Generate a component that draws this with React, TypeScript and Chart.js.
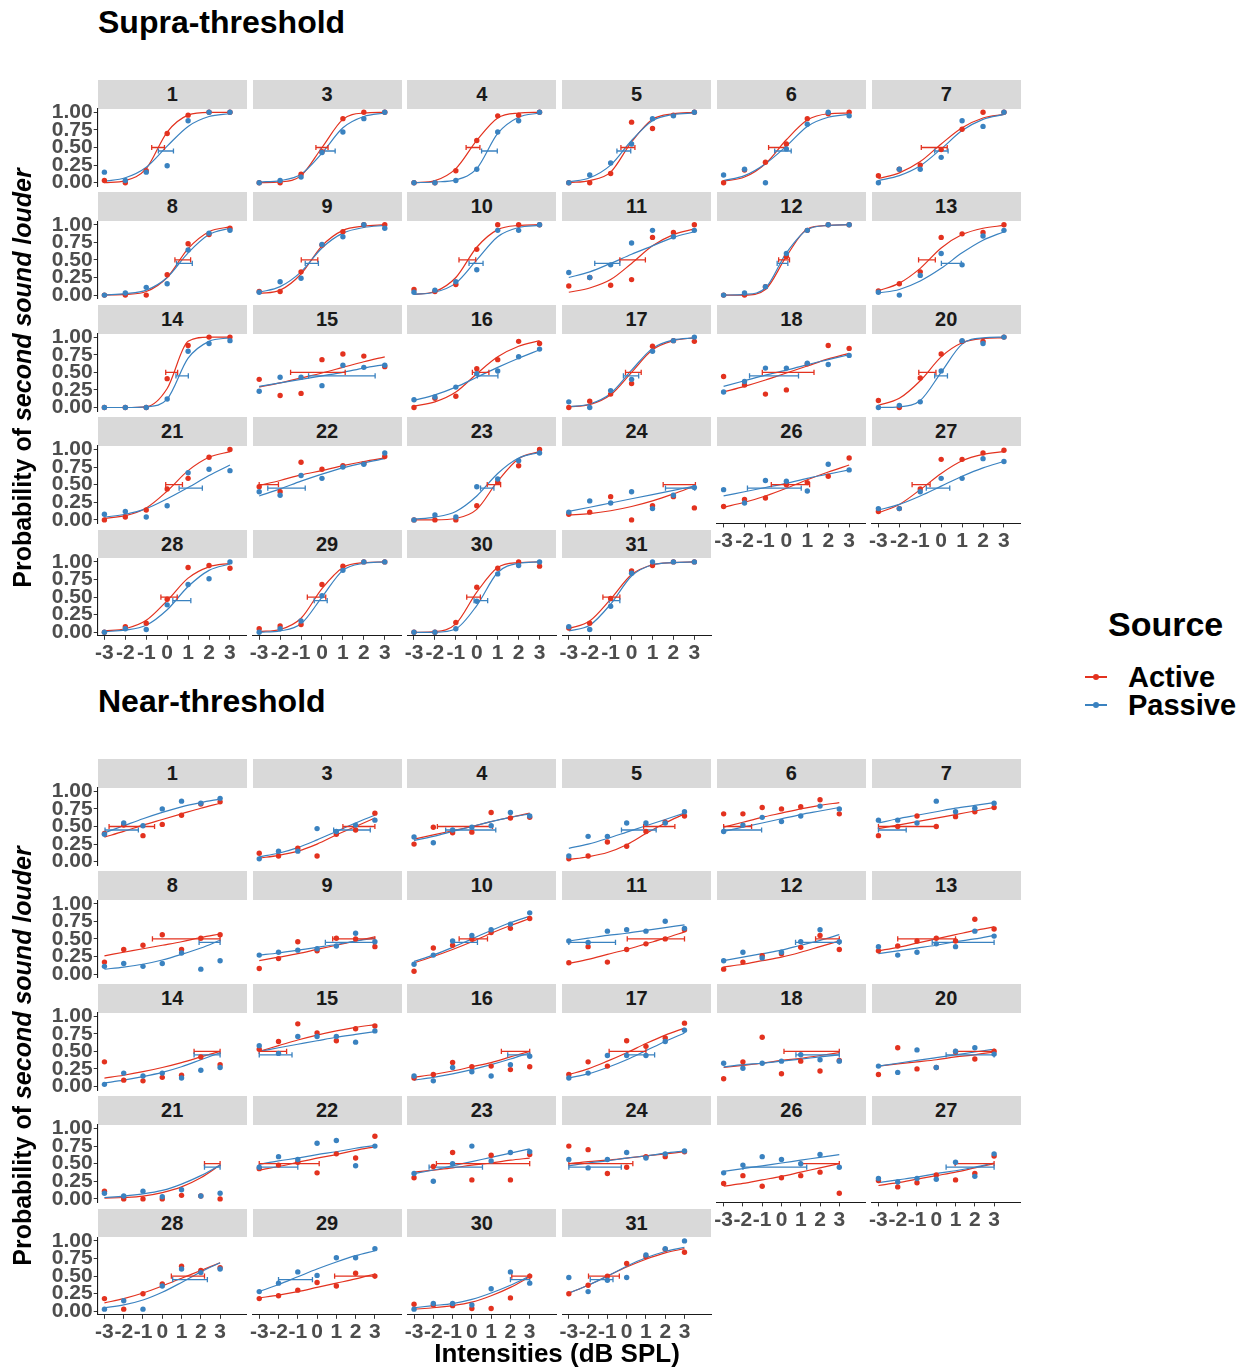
import React, { useEffect, useRef } from "react";
import { Chart, registerables } from "chart.js";

Chart.register(...registerables);

const FONT = "'Liberation Sans', Arial, Helvetica, sans-serif";
const RED = "#E3321F";
const BLUE = "#3A82C0";
const TICK_COLOR = "#4D4D4D";
const AXIS_COLOR = "#1A1A1A";

// ---------------- data ----------------
const panelIds = ["1", "3", "4", "5", "6", "7", "8", "9", "10", "11", "12", "13", "14", "15", "16", "17", "18", "20", "21", "22", "23", "24", "26", "27", "28", "29", "30", "31"];
const intensities = [-3, -2, -1, 0, 1, 2, 3];
const xTickValues = [-3, -2, -1, 0, 1, 2, 3];
const yTickValues = [0, 0.25, 0.5, 0.75, 1];
const activeBarLevel = 0.5;
const passiveBarLevel = 0.45;
const supraXRange = [-3.32, 3.8];
const nearXRange = [-3.35, 4.38];

const supraActivePoints = [
  [0.03, 0.0, 0.17, 0.7, 0.96, 1.0, 1.0],
  [0.0, 0.0, 0.12, 0.44, 0.91, 1.0, 1.0],
  [0.0, 0.0, 0.17, 0.6, 0.95, 0.96, 1.0],
  [0.0, 0.0, 0.13, 0.86, 0.77, 0.96, 1.0],
  [0.0, 0.18, 0.29, 0.55, 0.91, 0.98, 1.0],
  [0.1, 0.19, 0.25, 0.47, 0.76, 1.0, 1.0],
  [0.0, 0.0, 0.0, 0.29, 0.73, 0.86, 0.95],
  [0.05, 0.05, 0.33, 0.71, 0.9, 1.0, 1.0],
  [0.08, 0.05, 0.15, 0.65, 1.0, 1.0, 1.0],
  [0.13, 0.25, 0.14, 0.22, 0.82, 0.89, 1.0],
  [0.0, 0.0, 0.12, 0.55, 0.92, 1.0, 1.0],
  [0.06, 0.16, 0.33, 0.82, 0.87, 0.89, 1.0],
  [0.0, 0.0, 0.0, 0.41, 0.88, 1.0, 1.0],
  [0.4, 0.17, 0.2, 0.68, 0.76, 0.73, 0.58],
  [0.0, 0.13, 0.16, 0.55, 0.68, 0.94, 0.91],
  [0.0, 0.09, 0.19, 0.34, 0.87, 0.95, 0.94],
  [0.44, 0.32, 0.19, 0.25, 0.62, 0.88, 0.84],
  [0.1, 0.0, 0.42, 0.76, 0.94, 0.94, 1.0],
  [0.0, 0.04, 0.14, 0.44, 0.59, 0.89, 1.0],
  [0.47, 0.4, 0.82, 0.72, 0.77, 0.8, 0.9],
  [0.0, 0.0, 0.0, 0.2, 0.54, 0.77, 1.0],
  [0.08, 0.11, 0.33, 0.0, 0.2, 0.33, 0.17],
  [0.19, 0.29, 0.31, 0.5, 0.53, 0.62, 0.88],
  [0.12, 0.16, 0.44, 0.86, 0.86, 0.95, 0.99],
  [0.0, 0.08, 0.13, 0.47, 0.92, 0.95, 0.91],
  [0.05, 0.09, 0.11, 0.68, 0.94, 1.0, 1.0],
  [0.0, 0.0, 0.14, 0.64, 0.91, 1.0, 0.94],
  [0.06, 0.13, 0.48, 0.87, 0.95, 1.0, 1.0],
];

const supraPassivePoints = [
  [0.15, 0.03, 0.15, 0.24, 0.88, 1.0, 1.0],
  [0.0, 0.03, 0.08, 0.43, 0.72, 0.91, 1.0],
  [0.0, 0.0, 0.03, 0.19, 0.72, 0.88, 1.0],
  [0.0, 0.11, 0.28, 0.55, 0.91, 0.95, 1.0],
  [0.11, 0.19, 0.0, 0.48, 0.83, 1.0, 0.95],
  [0.0, 0.19, 0.19, 0.36, 0.88, 0.8, 1.0],
  [0.0, 0.03, 0.11, 0.16, 0.64, 0.88, 0.92],
  [0.04, 0.19, 0.24, 0.72, 0.83, 1.0, 0.95],
  [0.04, 0.07, 0.19, 0.36, 0.92, 0.92, 1.0],
  [0.32, 0.25, 0.43, 0.74, 0.92, 0.83, 0.92],
  [0.0, 0.03, 0.12, 0.59, 0.92, 1.0, 1.0],
  [0.04, 0.0, 0.28, 0.59, 0.43, 0.84, 0.92],
  [0.0, 0.0, 0.0, 0.12, 0.8, 0.91, 0.95],
  [0.23, 0.43, 0.43, 0.31, 0.6, 0.57, 0.6],
  [0.11, 0.15, 0.29, 0.48, 0.52, 0.72, 0.83],
  [0.08, 0.0, 0.24, 0.4, 0.8, 0.95, 1.0],
  [0.22, 0.37, 0.56, 0.56, 0.63, 0.61, 0.74],
  [0.0, 0.03, 0.08, 0.52, 0.95, 0.91, 1.0],
  [0.08, 0.12, 0.04, 0.2, 0.67, 0.72, 0.7],
  [0.4, 0.35, 0.63, 0.59, 0.75, 0.79, 0.95],
  [0.0, 0.07, 0.04, 0.47, 0.58, 0.84, 0.95],
  [0.11, 0.27, 0.24, 0.4, 0.16, 0.35, 0.46],
  [0.43, 0.24, 0.56, 0.55, 0.41, 0.79, 0.71],
  [0.16, 0.16, 0.4, 0.59, 0.59, 0.87, 0.83],
  [0.0, 0.05, 0.04, 0.39, 0.68, 0.76, 1.0],
  [0.0, 0.05, 0.16, 0.52, 0.88, 1.0, 1.0],
  [0.0, 0.0, 0.05, 0.44, 0.83, 0.95, 1.0],
  [0.08, 0.04, 0.37, 0.84, 1.0, 1.0, 1.0],
];

const supraActiveCurve = [
  [0.0, 0.03, 0.2, 0.72, 0.96, 1.0, 1.0],
  [0.0, 0.01, 0.1, 0.5, 0.9, 0.99, 1.0],
  [0.0, 0.03, 0.2, 0.6, 0.92, 0.99, 1.0],
  [0.0, 0.03, 0.15, 0.58, 0.9, 0.98, 1.0],
  [0.02, 0.08, 0.27, 0.61, 0.89, 0.98, 0.99],
  [0.06, 0.14, 0.3, 0.55, 0.78, 0.92, 0.97],
  [0.0, 0.01, 0.05, 0.25, 0.66, 0.9, 0.97],
  [0.02, 0.07, 0.3, 0.7, 0.92, 0.98, 1.0],
  [0.01, 0.05, 0.25, 0.68, 0.93, 0.99, 1.0],
  [0.04, 0.1, 0.22, 0.45, 0.7, 0.86, 0.94],
  [0.0, 0.0, 0.08, 0.55, 0.94, 0.99, 1.0],
  [0.06, 0.17, 0.38, 0.67, 0.86, 0.95, 0.99],
  [0.0, 0.0, 0.01, 0.27, 0.94, 1.0, 1.0],
  [0.29, 0.35, 0.42, 0.49, 0.57, 0.65, 0.72],
  [0.02, 0.08, 0.22, 0.48, 0.72, 0.87, 0.95],
  [0.01, 0.04, 0.18, 0.5, 0.82, 0.95, 0.99],
  [0.22, 0.3, 0.39, 0.49, 0.59, 0.69, 0.77],
  [0.03, 0.13, 0.38, 0.72, 0.92, 0.98, 0.99],
  [0.02, 0.06, 0.17, 0.41, 0.7, 0.89, 0.97],
  [0.49, 0.56, 0.64, 0.7, 0.77, 0.83, 0.88],
  [0.0, 0.0, 0.02, 0.15, 0.55, 0.87, 0.97],
  [0.07, 0.09, 0.13, 0.19, 0.27, 0.37, 0.48],
  [0.18, 0.25, 0.34, 0.45, 0.57, 0.68, 0.78],
  [0.1, 0.22, 0.43, 0.66, 0.84, 0.93, 0.97],
  [0.02, 0.05, 0.17, 0.45, 0.77, 0.93, 0.98],
  [0.01, 0.04, 0.2, 0.62, 0.92, 0.99, 1.0],
  [0.0, 0.01, 0.12, 0.57, 0.92, 0.99, 1.0],
  [0.05, 0.16, 0.47, 0.82, 0.96, 0.99, 1.0],
];

const supraPassiveCurve = [
  [0.02, 0.07, 0.22, 0.52, 0.8, 0.94, 0.98],
  [0.01, 0.03, 0.12, 0.42, 0.78, 0.94, 0.99],
  [0.0, 0.01, 0.04, 0.2, 0.7, 0.93, 0.99],
  [0.01, 0.07, 0.25, 0.6, 0.88, 0.97, 0.99],
  [0.03, 0.1, 0.27, 0.52, 0.8, 0.93, 0.97],
  [0.03, 0.1, 0.24, 0.48, 0.74, 0.9, 0.97],
  [0.0, 0.02, 0.07, 0.25, 0.6, 0.86, 0.95],
  [0.04, 0.12, 0.33, 0.67, 0.88, 0.96, 0.99],
  [0.01, 0.04, 0.17, 0.5, 0.83, 0.96, 0.99],
  [0.25, 0.33, 0.45, 0.58, 0.7, 0.82, 0.9],
  [0.0, 0.01, 0.1, 0.6, 0.93, 0.99, 1.0],
  [0.03, 0.08, 0.2, 0.38, 0.6, 0.78, 0.9],
  [0.0, 0.0, 0.01, 0.12, 0.7, 0.94, 0.99],
  [0.3, 0.35, 0.4, 0.45, 0.5, 0.56, 0.61],
  [0.1, 0.18, 0.29, 0.43, 0.57, 0.7, 0.82],
  [0.01, 0.05, 0.2, 0.53, 0.84, 0.96, 0.99],
  [0.3, 0.38, 0.46, 0.53, 0.61, 0.68, 0.75],
  [0.0, 0.01, 0.1, 0.5, 0.9, 0.99, 1.0],
  [0.04, 0.08, 0.16, 0.3, 0.46, 0.63, 0.78],
  [0.34, 0.44, 0.55, 0.65, 0.74, 0.81, 0.87],
  [0.01, 0.04, 0.12, 0.34, 0.66, 0.88, 0.96],
  [0.12, 0.18, 0.24, 0.3, 0.36, 0.42, 0.48],
  [0.34, 0.4, 0.46, 0.52, 0.59, 0.65, 0.71],
  [0.14, 0.22, 0.34, 0.48, 0.62, 0.74, 0.83],
  [0.01, 0.03, 0.1, 0.32, 0.65, 0.88, 0.97],
  [0.0, 0.02, 0.12, 0.5, 0.88, 0.98, 1.0],
  [0.0, 0.0, 0.05, 0.38, 0.85, 0.98, 1.0],
  [0.02, 0.1, 0.4, 0.8, 0.96, 0.99, 1.0],
];

const supraActiveCI = [
  [-0.74, -0.13], [-0.29, 0.29], [-0.51, 0.15], [-0.51, 0.16], [-0.85, -0.05], [-0.95, 0.29],
  [0.37, 1.12], [-0.99, -0.2], [-0.85, -0.05], [-0.56, 0.66], [-0.37, 0.15], [-1.08, -0.28],
  [-0.07, 0.5], [-1.5, 1.11], [-0.21, 0.58], [-0.29, 0.46], [-1.15, 1.32], [-1.07, -0.25],
  [-0.07, 0.73], [-3.0, -2.08], [0.5, 1.14], [1.51, 3.05], [-0.72, 1.11], [-1.39, -0.53],
  [-0.3, 0.48], [-0.7, 0.18], [-0.48, 0.17], [-1.37, -0.56],
];

const supraPassiveCI = [
  [-0.42, 0.3], [-0.07, 0.63], [0.23, 0.98], [-0.7, -0.04], [-0.56, 0.23], [-0.31, 0.33],
  [0.45, 1.2], [-0.8, -0.17], [-0.37, 0.3], [-1.76, -0.56], [-0.44, 0.07], [0.01, 0.96],
  [0.42, 1.01], [-0.64, 2.54], [0.03, 1.01], [-0.39, 0.34], [-1.76, 0.58], [-0.31, 0.3],
  [0.57, 1.68], [-2.59, -0.8], [0.18, 0.82], [1.62, 3.02], [-1.86, 0.71], [-0.71, 0.41],
  [0.27, 1.13], [-0.37, 0.25], [-0.13, 0.52], [-1.07, -0.56],
];

const nearActivePoints = [
  [0.4, 0.52, 0.37, 0.53, 0.66, 0.82, 0.85],
  [0.12, 0.08, 0.19, 0.08, 0.39, 0.45, 0.69],
  [0.25, 0.49, 0.41, 0.42, 0.7, 0.62, 0.63],
  [0.04, 0.08, 0.28, 0.22, 0.43, 0.56, 0.65],
  [0.68, 0.68, 0.77, 0.75, 0.78, 0.88, 0.68],
  [0.37, 0.5, 0.65, 0.5, 0.64, 0.71, 0.77],
  [0.17, 0.35, 0.41, 0.56, 0.35, 0.51, 0.56],
  [0.08, 0.22, 0.46, 0.33, 0.51, 0.5, 0.39],
  [0.04, 0.37, 0.41, 0.5, 0.59, 0.65, 0.79],
  [0.16, 0.39, 0.17, 0.35, 0.43, 0.5, 0.63],
  [0.07, 0.17, 0.26, 0.29, 0.38, 0.55, 0.35],
  [0.33, 0.4, 0.47, 0.51, 0.47, 0.78, 0.64],
  [0.35, 0.09, 0.08, 0.13, 0.16, 0.42, 0.31],
  [0.53, 0.64, 0.89, 0.76, 0.65, 0.82, 0.86],
  [0.12, 0.17, 0.34, 0.28, 0.29, 0.24, 0.28],
  [0.17, 0.35, 0.29, 0.65, 0.57, 0.69, 0.9],
  [0.11, 0.35, 0.7, 0.18, 0.36, 0.22, 0.37],
  [0.17, 0.55, 0.25, 0.27, 0.49, 0.39, 0.5],
  [0.11, 0.0, 0.0, 0.0, 0.05, 0.04, 0.0],
  [0.43, 0.48, 0.52, 0.37, 0.64, 0.58, 0.89],
  [0.3, 0.46, 0.66, 0.27, 0.62, 0.27, 0.63],
  [0.75, 0.7, 0.36, 0.45, 0.6, 0.6, 0.67],
  [0.22, 0.33, 0.18, 0.3, 0.33, 0.38, 0.08],
  [0.26, 0.17, 0.23, 0.34, 0.27, 0.36, 0.61],
  [0.18, 0.03, 0.25, 0.39, 0.64, 0.58, 0.62],
  [0.18, 0.22, 0.3, 0.41, 0.36, 0.54, 0.5],
  [0.1, 0.09, 0.08, 0.04, 0.04, 0.19, 0.5],
  [0.25, 0.37, 0.5, 0.68, 0.78, 0.88, 0.84],
];

const nearPassivePoints = [
  [0.39, 0.55, 0.51, 0.75, 0.86, 0.83, 0.9],
  [0.04, 0.15, 0.15, 0.47, 0.43, 0.52, 0.59],
  [0.35, 0.27, 0.45, 0.49, 0.51, 0.7, 0.65],
  [0.08, 0.36, 0.36, 0.55, 0.55, 0.55, 0.71],
  [0.43, 0.52, 0.63, 0.57, 0.65, 0.79, 0.75],
  [0.59, 0.59, 0.55, 0.86, 0.71, 0.76, 0.83],
  [0.11, 0.15, 0.11, 0.15, 0.3, 0.07, 0.19],
  [0.27, 0.31, 0.34, 0.36, 0.4, 0.58, 0.46],
  [0.14, 0.27, 0.47, 0.55, 0.63, 0.71, 0.87],
  [0.47, 0.45, 0.61, 0.63, 0.61, 0.75, 0.65],
  [0.19, 0.31, 0.23, 0.31, 0.46, 0.63, 0.46],
  [0.39, 0.27, 0.31, 0.43, 0.39, 0.61, 0.54],
  [0.03, 0.19, 0.15, 0.19, 0.12, 0.23, 0.27],
  [0.58, 0.47, 0.71, 0.71, 0.71, 0.63, 0.79],
  [0.15, 0.08, 0.27, 0.21, 0.15, 0.31, 0.43],
  [0.12, 0.19, 0.44, 0.44, 0.44, 0.64, 0.8],
  [0.33, 0.26, 0.33, 0.36, 0.45, 0.38, 0.36],
  [0.29, 0.2, 0.52, 0.27, 0.5, 0.55, 0.46],
  [0.08, 0.04, 0.11, 0.03, 0.13, 0.04, 0.08],
  [0.45, 0.6, 0.56, 0.79, 0.83, 0.47, 0.75],
  [0.36, 0.25, 0.5, 0.75, 0.54, 0.66, 0.67],
  [0.56, 0.44, 0.56, 0.66, 0.58, 0.64, 0.68],
  [0.37, 0.48, 0.6, 0.56, 0.5, 0.63, 0.45],
  [0.29, 0.24, 0.29, 0.28, 0.52, 0.32, 0.64],
  [0.03, 0.15, 0.03, 0.36, 0.6, 0.55, 0.6],
  [0.28, 0.4, 0.56, 0.51, 0.76, 0.76, 0.89],
  [0.03, 0.11, 0.11, 0.09, 0.32, 0.56, 0.4],
  [0.48, 0.28, 0.44, 0.48, 0.8, 0.89, 1.0],
];

const nearActiveCurve = [
  [0.35, 0.43, 0.52, 0.6, 0.68, 0.76, 0.83],
  [0.05, 0.09, 0.15, 0.25, 0.38, 0.5, 0.62],
  [0.32, 0.38, 0.44, 0.5, 0.57, 0.63, 0.69],
  [0.03, 0.07, 0.13, 0.24, 0.4, 0.55, 0.68],
  [0.49, 0.56, 0.63, 0.69, 0.75, 0.8, 0.84],
  [0.47, 0.52, 0.57, 0.62, 0.67, 0.72, 0.77],
  [0.26, 0.31, 0.36, 0.41, 0.46, 0.52, 0.57],
  [0.19, 0.24, 0.29, 0.35, 0.41, 0.47, 0.53],
  [0.16, 0.25, 0.35, 0.46, 0.58, 0.69, 0.79],
  [0.15, 0.21, 0.28, 0.35, 0.43, 0.51, 0.6],
  [0.1, 0.14, 0.19, 0.24, 0.31, 0.39, 0.47],
  [0.33, 0.38, 0.44, 0.5, 0.56, 0.62, 0.67],
  [0.12, 0.16, 0.21, 0.27, 0.34, 0.42, 0.5],
  [0.5, 0.58, 0.66, 0.73, 0.79, 0.84, 0.88],
  [0.13, 0.17, 0.22, 0.28, 0.34, 0.42, 0.5],
  [0.17, 0.25, 0.36, 0.48, 0.61, 0.73, 0.83],
  [0.27, 0.3, 0.33, 0.37, 0.4, 0.44, 0.48],
  [0.29, 0.32, 0.35, 0.38, 0.42, 0.45, 0.49],
  [0.01, 0.02, 0.04, 0.09, 0.17, 0.3, 0.48],
  [0.41, 0.46, 0.52, 0.58, 0.63, 0.69, 0.74],
  [0.38, 0.41, 0.44, 0.48, 0.51, 0.55, 0.58],
  [0.5, 0.53, 0.55, 0.58, 0.61, 0.64, 0.67],
  [0.18, 0.22, 0.27, 0.32, 0.38, 0.44, 0.5],
  [0.19, 0.23, 0.28, 0.33, 0.38, 0.44, 0.5],
  [0.12, 0.18, 0.26, 0.36, 0.47, 0.58, 0.69],
  [0.19, 0.23, 0.28, 0.34, 0.4, 0.46, 0.53],
  [0.03, 0.05, 0.08, 0.13, 0.22, 0.34, 0.49],
  [0.26, 0.37, 0.5, 0.63, 0.74, 0.83, 0.89],
];

const nearPassiveCurve = [
  [0.41, 0.51, 0.61, 0.7, 0.78, 0.84, 0.89],
  [0.07, 0.12, 0.2, 0.31, 0.43, 0.55, 0.66],
  [0.3, 0.36, 0.43, 0.5, 0.57, 0.63, 0.68],
  [0.19, 0.25, 0.33, 0.42, 0.51, 0.6, 0.69],
  [0.43, 0.49, 0.55, 0.61, 0.67, 0.72, 0.77],
  [0.55, 0.61, 0.66, 0.71, 0.76, 0.8, 0.84],
  [0.07, 0.1, 0.14, 0.2, 0.28, 0.37, 0.48],
  [0.27, 0.3, 0.34, 0.38, 0.42, 0.47, 0.51],
  [0.18, 0.27, 0.38, 0.5, 0.62, 0.73, 0.82],
  [0.47, 0.51, 0.55, 0.58, 0.62, 0.66, 0.7],
  [0.19, 0.24, 0.29, 0.34, 0.41, 0.48, 0.56],
  [0.29, 0.33, 0.37, 0.41, 0.46, 0.5, 0.55],
  [0.05, 0.09, 0.14, 0.2, 0.28, 0.38, 0.48],
  [0.5, 0.55, 0.6, 0.65, 0.7, 0.74, 0.78],
  [0.09, 0.13, 0.18, 0.24, 0.31, 0.39, 0.48],
  [0.12, 0.18, 0.27, 0.38, 0.51, 0.64, 0.76],
  [0.28, 0.31, 0.33, 0.36, 0.39, 0.42, 0.45],
  [0.29, 0.33, 0.37, 0.41, 0.45, 0.49, 0.53],
  [0.02, 0.04, 0.07, 0.12, 0.21, 0.33, 0.48],
  [0.49, 0.54, 0.58, 0.63, 0.67, 0.72, 0.76],
  [0.36, 0.41, 0.47, 0.53, 0.59, 0.65, 0.71],
  [0.47, 0.51, 0.54, 0.58, 0.61, 0.65, 0.68],
  [0.39, 0.43, 0.47, 0.51, 0.55, 0.59, 0.63],
  [0.23, 0.27, 0.31, 0.36, 0.4, 0.45, 0.51],
  [0.05, 0.09, 0.16, 0.27, 0.41, 0.56, 0.69],
  [0.28, 0.38, 0.49, 0.6, 0.7, 0.79, 0.86],
  [0.05, 0.08, 0.11, 0.17, 0.26, 0.37, 0.5],
  [0.26, 0.37, 0.5, 0.64, 0.76, 0.85, 0.91],
];

const nearActiveCI = [
  [-2.76, -0.4], [1.34, 3.0], [-1.79, 1.07], [0.88, 2.5], [-3.0, -1.55], [-3.0, 0.0],
  [-0.51, 3.0], [0.81, 3.0], [-0.66, 0.81], [0.03, 3.0], [1.77, 3.0], [-2.0, 1.0],
  [1.65, 3.0], [-3.0, -1.58], [1.53, 3.0], [-0.91, 1.0], [0.13, 3.0], [0.98, 3.0],
  [2.19, 3.0], [-3.0, 0.11], [-1.84, 3.0], [-3.0, 0.32], [1.0, 3.0], [0.98, 3.0],
  [0.47, 2.19], [0.91, 3.0], [2.07, 3.0], [-1.98, -0.38],
];

const nearPassiveCI = [
  [-2.97, -1.24], [0.86, 2.76], [-1.36, 1.24], [-0.27, 1.53], [-3.0, -1.03], [-3.0, -1.56],
  [1.91, 3.0], [0.43, 2.93], [-0.98, 0.29], [-3.0, -0.58], [0.73, 3.0], [-0.21, 3.0],
  [1.65, 3.0], [-3.0, -1.3], [1.86, 3.0], [0.0, 1.45], [0.75, 3.0], [0.51, 3.0],
  [2.19, 3.0], [-3.0, -1.0], [-2.22, 0.55], [-3.0, -0.28], [-2.0, 1.31], [0.51, 3.0],
  [0.54, 2.34], [-2.0, -0.24], [2.0, 3.0], [-1.89, -0.71],
];

// ---------------- layout ----------------
const COL_LEFT0 = 97.7;
const COL_PITCH = 154.8;
const PANEL_W = 149;
const ROW_PITCH = 112.4;
const STRIP_H = 28.8;
const PLOT_H = 77.4;
const M = 14;
const YW = 52;
const XH = 30;
const NCOL = 6;

type PanelProps = {
  left: number;
  top: number;
  hasX: boolean;
  hasY: boolean;
  xRange: number[];
  activePts: number[];
  passivePts: number[];
  activeCurve: number[];
  passiveCurve: number[];
  activeCI: number[];
  passiveCI: number[];
};

const toXY = (ys: number[]) => intensities.map((x, i) => ({ x, y: ys[i] }));

function Panel(p: PanelProps) {
  const ref = useRef<HTMLCanvasElement>(null);
  const extraL = p.hasY ? YW : 0;
  const extraB = p.hasX ? XH : 0;
  const cl = Math.floor(p.left - M - extraL);
  const ct = Math.floor(p.top - M);
  const cr = Math.ceil(p.left + PANEL_W + M);
  const cb = Math.ceil(p.top + PLOT_H + M + extraB);
  const cw = cr - cl;
  const ch = cb - ct;
  const pad = {
    left: p.left - extraL - cl,
    top: p.top - ct,
    right: cr - (p.left + PANEL_W),
    bottom: cb - (p.top + PLOT_H) - extraB,
  };

  useEffect(() => {
    const canvas = ref.current;
    if (!canvas) return;
    const tickFont = { family: FONT, size: 21, weight: "bold" as const };
    const errDs = (ci: number[], lvl: number, color: string) => ({
      data: [
        { x: ci[0], y: lvl },
        { x: ci[1], y: lvl },
      ],
      borderColor: color,
      backgroundColor: color,
      borderWidth: 1.3,
      pointStyle: "line" as const,
      rotation: 90,
      pointRadius: 2.6,
      pointBorderColor: color,
      pointBorderWidth: 1.3,
      showLine: true,
      tension: 0,
    });
    const ptDs = (ys: number[], color: string) => ({
      data: toXY(ys),
      showLine: false,
      pointRadius: 2.7,
      pointBackgroundColor: color,
      pointBorderColor: color,
      pointBorderWidth: 0,
      borderColor: color,
    });
    const curveDs = (ys: number[], color: string) => ({
      data: toXY(ys),
      showLine: true,
      borderColor: color,
      borderWidth: 1.2,
      pointRadius: 0,
      cubicInterpolationMode: "monotone" as const,
      fill: false,
    });
    const chart = new Chart(canvas, {
      type: "line",
      data: {
        datasets: [
          ptDs(p.passivePts, BLUE),
          ptDs(p.activePts, RED),
          errDs(p.passiveCI, passiveBarLevel, BLUE),
          errDs(p.activeCI, activeBarLevel, RED),
          curveDs(p.passiveCurve, BLUE),
          curveDs(p.activeCurve, RED),
        ] as any,
      },
      options: {
        animation: false,
        responsive: false,
        devicePixelRatio: 1,
        events: [],
        layout: { padding: pad, autoPadding: false } as any,
        plugins: {
          legend: { display: false },
          tooltip: { enabled: false },
          title: { display: false },
        },
        scales: {
          x: {
            type: "linear",
            min: p.xRange[0],
            max: p.xRange[1],
            display: p.hasX,
            afterBuildTicks: (s: any) => {
              s.ticks = xTickValues.map((v) => ({ value: v }));
            },
            afterFit: (s: any) => {
              s.height = p.hasX ? XH : 0;
            },
            ticks: {
              autoSkip: false,
              maxRotation: 0,
              minRotation: 0,
              padding: 1,
              color: TICK_COLOR,
              font: tickFont,
              callback: (v: any) => String(v),
            },
            grid: {
              display: true,
              drawOnChartArea: false,
              drawTicks: true,
              tickLength: 4,
              color: "#333333",
              lineWidth: 1,
            },
            border: { display: true, color: AXIS_COLOR, width: 1.1 },
          } as any,
          y: {
            type: "linear",
            min: -0.05,
            max: 1.05,
            display: p.hasY,
            afterBuildTicks: (s: any) => {
              s.ticks = yTickValues.map((v) => ({ value: v }));
            },
            afterFit: (s: any) => {
              s.width = p.hasY ? YW : 0;
            },
            ticks: {
              autoSkip: false,
              padding: 1,
              color: TICK_COLOR,
              font: tickFont,
              callback: (v: any) => Number(v).toFixed(2),
            },
            grid: {
              display: true,
              drawOnChartArea: false,
              drawTicks: true,
              tickLength: 4,
              color: "#333333",
              lineWidth: 1,
            },
            border: { display: true, color: AXIS_COLOR, width: 1.1 },
          } as any,
        },
      },
    });
    return () => chart.destroy();
  }, []);

  return (
    <canvas
      ref={ref}
      width={cw}
      height={ch}
      style={{ position: "absolute", left: cl, top: ct, width: cw, height: ch }}
    />
  );
}

type GridProps = {
  top: number;
  xRange: number[];
  activePts: number[][];
  passivePts: number[][];
  activeCurve: number[][];
  passiveCurve: number[][];
  activeCI: number[][];
  passiveCI: number[][];
};

function Grid(g: GridProps) {
  return (
    <>
      {panelIds.map((id, i) => {
        const row = Math.floor(i / NCOL);
        const col = i % NCOL;
        const left = COL_LEFT0 + col * COL_PITCH;
        const stripTop = g.top + row * ROW_PITCH;
        const hasX = row === 4 || (row === 3 && col >= 4);
        const hasY = col === 0;
        return (
          <React.Fragment key={id}>
            <div
              style={{
                position: "absolute",
                left,
                top: stripTop,
                width: PANEL_W,
                height: STRIP_H,
                background: "#D9D9D9",
                color: "#1A1A1A",
                font: `bold 20px ${FONT}`,
                lineHeight: `${STRIP_H}px`,
                textAlign: "center",
              }}
            >
              {id}
            </div>
            <Panel
              left={left}
              top={stripTop + STRIP_H}
              hasX={hasX}
              hasY={hasY}
              xRange={g.xRange}
              activePts={g.activePts[i]}
              passivePts={g.passivePts[i]}
              activeCurve={g.activeCurve[i]}
              passiveCurve={g.passiveCurve[i]}
              activeCI={g.activeCI[i]}
              passiveCI={g.passiveCI[i]}
            />
          </React.Fragment>
        );
      })}
    </>
  );
}

const textStyle = (left: number, cy: number, size: number): React.CSSProperties => ({
  position: "absolute",
  left,
  top: cy,
  transform: "translateY(-50%)",
  font: `bold ${size}px ${FONT}`,
  lineHeight: 1,
  whiteSpace: "nowrap",
  color: "#000",
});

function YTitle({ cy }: { cy: number }) {
  return (
    <div
      style={{
        position: "absolute",
        left: 22,
        top: cy,
        transform: "translate(-50%, -50%) rotate(-90deg)",
        font: `bold 25px ${FONT}`,
        lineHeight: 1,
        whiteSpace: "nowrap",
        color: "#000",
      }}
    >
      Probability of <i>second sound louder</i>
    </div>
  );
}

function LegendKey({ cy, color }: { cy: number; color: string }) {
  return (
    <>
      <div style={{ position: "absolute", left: 1085, top: cy - 0.75, width: 22, height: 1.5, background: color }} />
      <div
        style={{
          position: "absolute",
          left: 1096 - 3,
          top: cy - 3,
          width: 6,
          height: 6,
          borderRadius: 3,
          background: color,
        }}
      />
    </>
  );
}

export default function App() {
  return (
    <div
      style={{
        position: "absolute",
        left: 0,
        top: 0,
        width: 1254,
        height: 1367,
        background: "#FFFFFF",
        overflow: "hidden",
      }}
    >
      <div style={textStyle(98, 22, 32)}>Supra-threshold</div>
      <div style={textStyle(98, 701, 32)}>Near-threshold</div>
      <Grid
        top={80}
        xRange={supraXRange}
        activePts={supraActivePoints}
        passivePts={supraPassivePoints}
        activeCurve={supraActiveCurve}
        passiveCurve={supraPassiveCurve}
        activeCI={supraActiveCI}
        passiveCI={supraPassiveCI}
      />
      <Grid
        top={759}
        xRange={nearXRange}
        activePts={nearActivePoints}
        passivePts={nearPassivePoints}
        activeCurve={nearActiveCurve}
        passiveCurve={nearPassiveCurve}
        activeCI={nearActiveCI}
        passiveCI={nearPassiveCI}
      />
      <YTitle cy={378} />
      <YTitle cy={1056} />
      <div
        style={{
          position: "absolute",
          left: 557,
          top: 1353,
          transform: "translate(-50%, -50%)",
          font: `bold 26px ${FONT}`,
          lineHeight: 1,
          whiteSpace: "nowrap",
          color: "#000",
        }}
      >
        Intensities (dB SPL)
      </div>
      <div style={textStyle(1108, 624, 34)}>Source</div>
      <LegendKey cy={677} color={RED} />
      <LegendKey cy={705} color={BLUE} />
      <div style={textStyle(1128, 677, 29)}>Active</div>
      <div style={textStyle(1128, 705, 29)}>Passive</div>
    </div>
  );
}
